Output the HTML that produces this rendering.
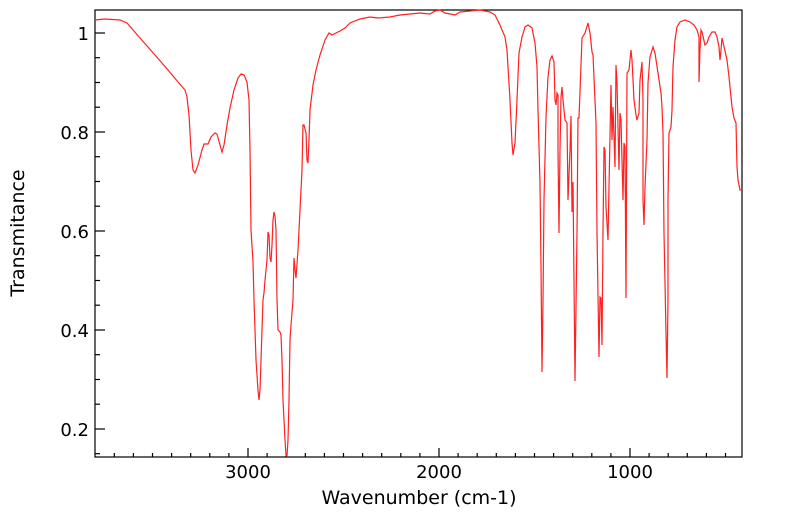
<!DOCTYPE html>
<html><head><meta charset="utf-8"><style>
body{margin:0;background:#fff}
svg{display:block}
text{font-family:"DejaVu Sans","Liberation Sans",sans-serif;font-size:18px;fill:#000}
</style></head><body>
<svg width="799" height="516" viewBox="0 0 799 516" xmlns="http://www.w3.org/2000/svg">
<rect x="95" y="10" width="647" height="447" fill="#fff" stroke="#000" stroke-width="1.2"/>
<g stroke="#000" stroke-width="1.2">
<line x1="95" y1="33" x2="105" y2="33"/><line x1="95" y1="132" x2="105" y2="132"/><line x1="95" y1="231" x2="105" y2="231"/><line x1="95" y1="330" x2="105" y2="330"/><line x1="95" y1="429" x2="105" y2="429"/>
<line x1="95" y1="57.7" x2="100" y2="57.7"/><line x1="95" y1="82.5" x2="100" y2="82.5"/><line x1="95" y1="107.2" x2="100" y2="107.2"/>
<line x1="95" y1="156.7" x2="100" y2="156.7"/><line x1="95" y1="181.5" x2="100" y2="181.5"/><line x1="95" y1="206.2" x2="100" y2="206.2"/>
<line x1="95" y1="255.7" x2="100" y2="255.7"/><line x1="95" y1="280.5" x2="100" y2="280.5"/><line x1="95" y1="305.2" x2="100" y2="305.2"/>
<line x1="95" y1="354.7" x2="100" y2="354.7"/><line x1="95" y1="379.5" x2="100" y2="379.5"/><line x1="95" y1="404.2" x2="100" y2="404.2"/>
<line x1="95" y1="453.7" x2="100" y2="453.7"/>
<line x1="248" y1="457" x2="248" y2="448"/><line x1="439" y1="457" x2="439" y2="448"/><line x1="630" y1="457" x2="630" y2="448"/>
</g>
<path stroke="#000" stroke-width="1.2" d="M114.3 457v-4M133.4 457v-4M152.5 457v-4M171.6 457v-4M190.7 457v-4M209.8 457v-4M228.9 457v-4M267.1 457v-4M286.2 457v-4M305.3 457v-4M324.4 457v-4M343.5 457v-4M362.6 457v-4M381.7 457v-4M400.8 457v-4M419.9 457v-4M458.1 457v-4M477.2 457v-4M496.3 457v-4M515.4 457v-4M534.5 457v-4M553.6 457v-4M572.7 457v-4M591.8 457v-4M610.9 457v-4M649.1 457v-4M668.2 457v-4M687.3 457v-4M706.4 457v-4M725.5 457v-4"/>
<polyline fill="none" stroke="#ff2020" stroke-width="1.2" points="
95,20 105,19 120,20 127,23 140,38 155,55 168,70 178,82 185,90 187,97 189,115 191,150 193,170 195,173 198,165 202,150 204,144 208,144 211,137 215,133 217,134 220,145 222,152 224,145 227,125 230,108 234,90 238,78 241,74 244,75 247,82 249,100 250,150 251,230 253,262 254,300 255,330 256,360 258,390 259,400 260,390 262,330 263,300 264,293 265,280 267,260 268,232 269,235 270,258 271,262 272,245 273,220 274,212 275,216 276,230 277,300 278,330 280,332 281,335 282,360 283,400 285,440 286,455 287,456 288,440 289,400 290,340 291,325 293,300 294,258 295,270 296,278 298,250 300,210 302,170 303,125 304,125 306,133 307,160 308,163 309,140 310,110 313,85 316,70 320,55 325,40 329,33 332,35 336,33 340,31 345,28 350,23 360,19 370,17 378,18 390,17 400,15 410,14 420,13 430,14 435,11 440,10 445,13 455,15 460,12 470,11 480,10 490,12 495,15 500,25 505,37 507,50 510,100 512,143 513,155 515,143 517,100 519,53 522,37 525,27 528,25 532,28 535,43 537,67 538,110 540,183 541,267 542,372 543,300 544,200 546,117 548,77 550,60 552,56 554,62 555,100 556,105 557,93 558,95 558,150 559,233 560,150 561,97 562,87 563,100 565,120 567,123 568,200 570,150 571,116 572,212 573,182 575,381 577,233 578,118 579,118 582,38 585,33 588,23 590,33 592,52 593,55 596,123 597,233 599,357 600,297 601,298 602,345 603,233 604,147 605,150 606,207 608,240 609,187 611,85 612,140 613,107 615,167 616,65 617,83 619,170 620,113 621,120 623,200 624,143 625,147 626,298 627,73 629,70 631,50 632,60 634,100 636,115 637,120 639,113 640,80 642,62 643,100 643,200 644,225 645,187 647,140 648,83 650,57 653,47 655,53 658,73 661,93 662,107 663,133 664,233 666,333 667,378 668,300 668,200 669,133 671,127 672,110 673,67 675,40 677,27 680,22 685,20 690,22 694,25 697,30 699,37 699,82 700,50 701,30 702,32 705,45 707,43 709,37 712,32 715,32 717,37 719,47 720,60 721,50 722,38 723,42 727,60 729,77 732,107 734,118 736,123 737,167 738,180 740,190 742,190"/>
<g text-anchor="end">
<text x="89" y="40">1</text><text x="89" y="139">0.8</text><text x="89" y="238">0.6</text><text x="89" y="337">0.4</text><text x="89" y="436">0.2</text>
</g>
<g text-anchor="middle">
<text x="248" y="478">3000</text><text x="439" y="478">2000</text><text x="630" y="478">1000</text>
<text x="419" y="504" style="font-size:19px">Wavenumber (cm-1)</text>
<text transform="translate(24,233) rotate(-90)" style="font-size:19px">Transmitance</text>
</g>
</svg>
</body></html>
